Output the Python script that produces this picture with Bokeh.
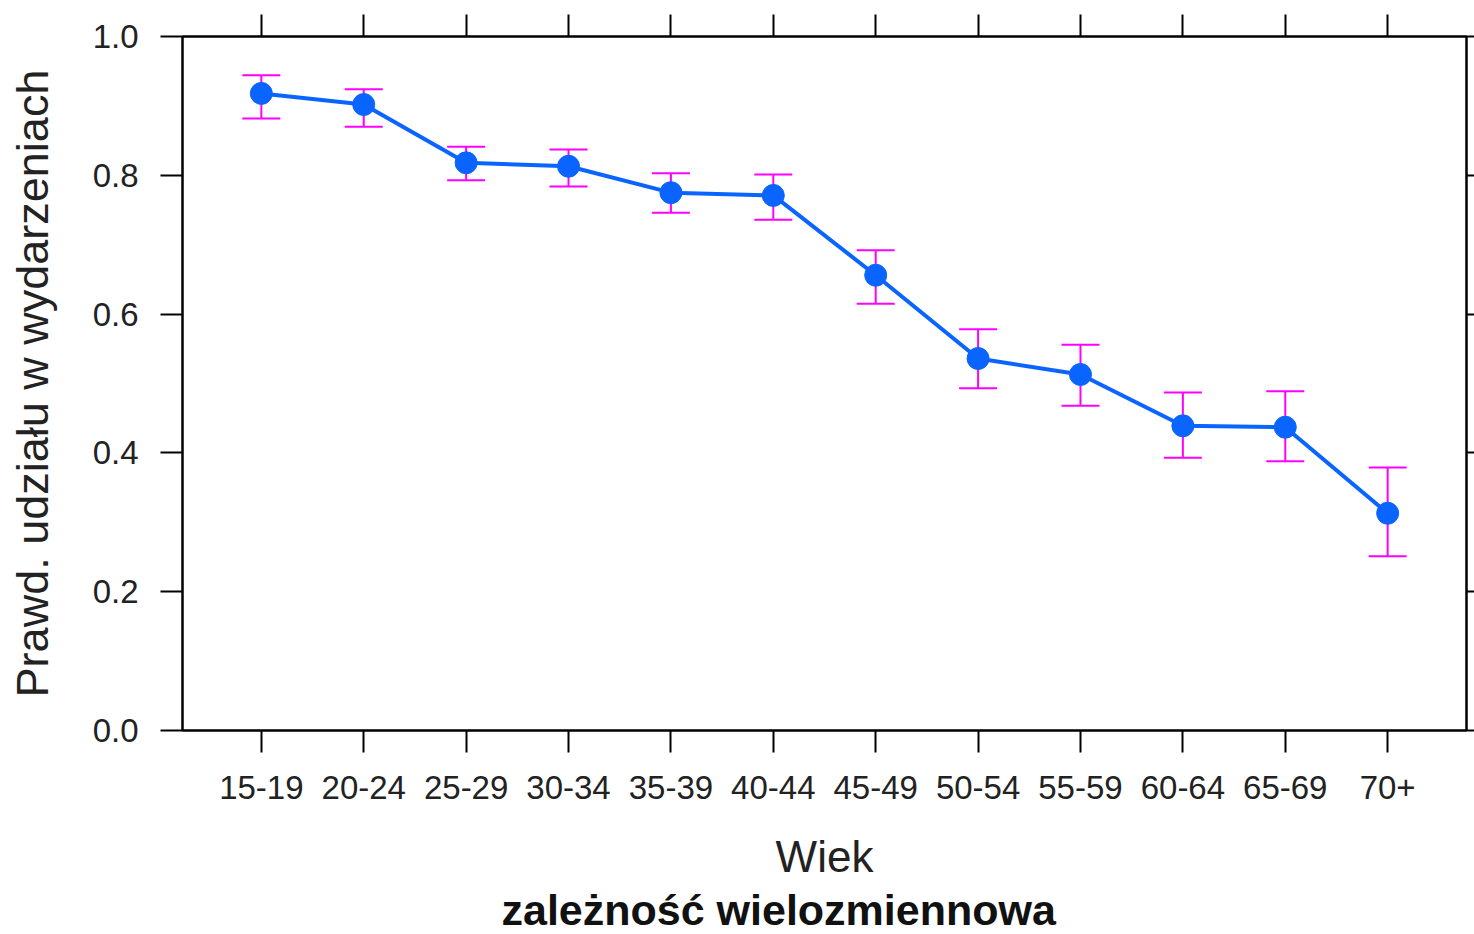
from bokeh.plotting import figure
from bokeh.models import (FactorRange, Range1d, Whisker, TeeHead, CategoricalAxis, LinearAxis,
                          ColumnDataSource, Title, FixedTicker, NumeralTickFormatter,
                          CustomLabelingPolicy)
from bokeh.embed import file_html
from bokeh.resources import INLINE

ages = ["15-19", "20-24", "25-29", "30-34", "35-39", "40-44",
        "45-49", "50-54", "55-59", "60-64", "65-69", "70+"]
prob = [0.918, 0.902, 0.818, 0.813, 0.775, 0.771, 0.656, 0.536, 0.513, 0.439, 0.437, 0.313]
upper = [0.944, 0.924, 0.841, 0.837, 0.803, 0.801, 0.692, 0.578, 0.556, 0.487, 0.489, 0.379]
lower = [0.882, 0.870, 0.793, 0.784, 0.746, 0.736, 0.615, 0.493, 0.468, 0.393, 0.388, 0.251]
y_ticks = [0.0, 0.2, 0.4, 0.6, 0.8, 1.0]

FONT = "Liberation Sans"
BLUE = "#0a64ff"
MAGENTA = "#ff00ff"
TXT = "#222222"
TICK = 22

src = ColumnDataSource(dict(age=ages, prob=prob, upper=upper, lower=lower))
xr = FactorRange(factors=ages, range_padding=0.27, range_padding_units="absolute")

p = figure(x_range=xr, y_range=Range1d(0, 1),
           frame_width=1284, frame_height=694,
           min_border_left=182, min_border_top=36, min_border_right=8, min_border_bottom=0,
           output_backend="svg", toolbar_location=None)

p.xgrid.visible = False
p.ygrid.visible = False
p.outline_line_color = "black"
p.outline_line_width = 2

# bottom axis
xa = p.xaxis[0]
xa.axis_label = "Wiek"
xa.axis_label_text_font = FONT
xa.axis_label_text_font_size = "44px"
xa.axis_label_text_font_style = "normal"
xa.axis_label_text_color = TXT
xa.axis_label_standoff = 30
xa.major_label_text_font = FONT
xa.major_label_text_font_size = "33px"
xa.major_label_text_color = TXT
xa.major_label_standoff = 23
xa.major_tick_out = TICK
xa.major_tick_in = 0
xa.major_tick_line_width = 2
xa.major_tick_line_color = "black"
xa.axis_line_width = 2
xa.axis_line_color = "black"

# left axis
ya = p.yaxis[0]
ya.ticker = FixedTicker(ticks=y_ticks)
ya.formatter = NumeralTickFormatter(format="0.0")
ya.axis_label = "Prawd. udziału w wydarzeniach"
ya.axis_label_text_font = FONT
ya.axis_label_text_font_size = "45px"
ya.axis_label_text_font_style = "normal"
ya.axis_label_text_color = TXT
ya.axis_label_standoff = 32
ya.major_label_text_font = FONT
ya.major_label_text_font_size = "33px"
ya.major_label_text_color = TXT
ya.major_label_standoff = 22
ya.major_tick_out = TICK
ya.major_tick_in = 0
ya.minor_tick_out = 0
ya.minor_tick_in = 0
ya.major_tick_line_width = 2
ya.major_tick_line_color = "black"
ya.axis_line_width = 2
ya.axis_line_color = "black"

# top and right axes: tick marks only, no labels drawn
no_labels = CustomLabelingPolicy(code="return []")
ta = CategoricalAxis(major_label_policy=no_labels, major_label_text_font_size="1px",
                     major_label_standoff=0, major_tick_out=TICK, major_tick_in=0,
                     major_tick_line_width=2, major_tick_line_color="black",
                     axis_line_width=2, axis_line_color="black")
p.add_layout(ta, "above")
ra = LinearAxis(ticker=FixedTicker(ticks=y_ticks), major_label_policy=no_labels,
                major_label_text_font_size="1px", major_label_standoff=0,
                major_tick_out=8, major_tick_in=0, minor_tick_out=0, minor_tick_in=0,
                major_tick_line_width=2, major_tick_line_color="black",
                axis_line_width=2, axis_line_color="black")
p.add_layout(ra, "right")

# error bars
p.add_layout(Whisker(base="age", upper="upper", lower="lower", source=src,
                     line_color=MAGENTA, line_width=2,
                     upper_head=TeeHead(size=38, line_color=MAGENTA, line_width=2),
                     lower_head=TeeHead(size=38, line_color=MAGENTA, line_width=2)))

p.line(x="age", y="prob", source=src, line_color=BLUE, line_width=4)
p.scatter(x="age", y="prob", source=src, size=22, marker="circle",
          fill_color=BLUE, line_color=BLUE)

title = Title(text="zależność wielozmiennowa", align="left", offset=319, text_font=FONT,
              text_font_size="43px", text_font_style="bold", text_color="#111111",
              standoff=0)
p.add_layout(title, "below")

open("out.html", "w").write(file_html(p, INLINE))
